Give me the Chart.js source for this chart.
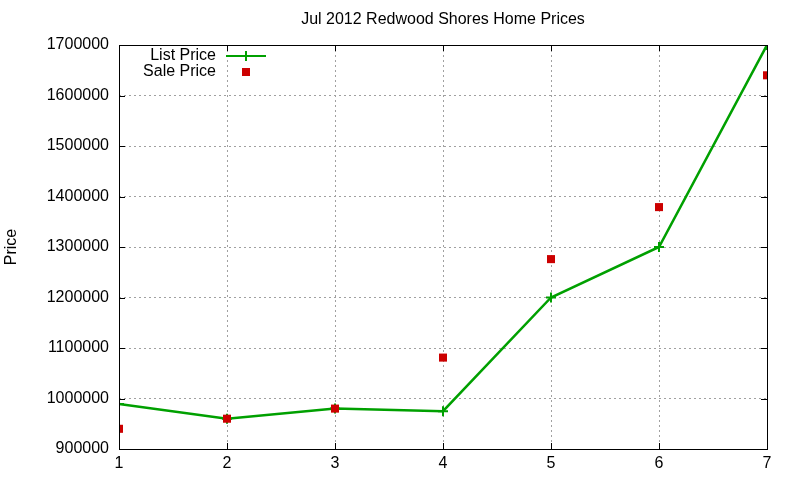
<!DOCTYPE html>
<html>
<head>
<meta charset="utf-8">
<script src="https://cdn.jsdelivr.net/npm/chart.js@4/dist/chart.umd.min.js"></script>
<style>
  html, body { margin: 0; padding: 0; background: #fff; }
  #wrap { width: 800px; height: 480px; }
</style>
</head>
<body>
<div id="wrap"><canvas id="priceChart" width="800" height="480"></canvas></div>
<script>
const months = [1, 2, 3, 4, 5, 6, 7];
const listPrice = [989000, 960000, 980000, 975000, 1200000, 1300000, 1700000];
const salePrice = [940000, 960000, 980000, 1081000, 1276000, 1379000, 1640000];
const yTicks = [900000, 1000000, 1100000, 1200000, 1300000, 1400000, 1500000, 1600000, 1700000];

const FONT = '"Liberation Sans", Arial, sans-serif';
const green = 'rgb(0,160,0)';
const red = 'rgb(204,0,0)';

// gnuplot-ish frame, inward ticks, title and legend
const framePlugin = {
  id: 'frame',
  afterDatasetsDraw(chart) {
    const { ctx, chartArea: a, scales } = chart;
    ctx.save();
    ctx.strokeStyle = '#000';
    ctx.lineWidth = 1;
    ctx.strokeRect(a.left + 0.5, a.top + 0.5, a.right - a.left, a.bottom - a.top);
    ctx.beginPath();
    yTicks.forEach((v) => {
      const y = Math.round(scales.y.getPixelForValue(v)) + 0.5;
      ctx.moveTo(a.left, y); ctx.lineTo(a.left + 6, y);
      ctx.moveTo(a.right, y); ctx.lineTo(a.right - 6, y);
    });
    months.forEach((m) => {
      const x = Math.round(scales.x.getPixelForValue(m)) + 0.5;
      ctx.moveTo(x, a.bottom); ctx.lineTo(x, a.bottom - 6);
      ctx.moveTo(x, a.top); ctx.lineTo(x, a.top + 6);
    });
    ctx.stroke();

    ctx.fillStyle = '#000';
    ctx.font = '16px ' + FONT;
    ctx.textAlign = 'center';
    ctx.textBaseline = 'middle';
    ctx.fillText('Jul 2012 Redwood Shores Home Prices', (a.left + a.right) / 2, 20);

    // key
    ctx.textAlign = 'right';
    ctx.fillText('List Price', 216, 56);
    ctx.fillText('Sale Price', 216, 72);
    ctx.strokeStyle = green;
    ctx.lineWidth = 2;
    ctx.beginPath();
    ctx.moveTo(226, 56); ctx.lineTo(266, 56);
    ctx.moveTo(246, 51); ctx.lineTo(246, 61);
    ctx.stroke();
    ctx.fillStyle = red;
    ctx.fillRect(242, 68, 8, 8);
    ctx.restore();
  }
};

new Chart(document.getElementById('priceChart'), {
  type: 'line',
  data: {
    datasets: [
      {
        label: 'List Price',
        data: months.map((m, i) => ({ x: m, y: listPrice[i] })),
        borderColor: green,
        backgroundColor: green,
        borderWidth: 2.5,
        pointStyle: 'cross',
        pointRadius: 5,
        pointBorderWidth: 2,
        tension: 0,
        order: 2
      },
      {
        label: 'Sale Price',
        data: months.map((m, i) => ({ x: m, y: salePrice[i] })),
        showLine: false,
        borderColor: red,
        backgroundColor: red,
        pointStyle: 'rect',
        pointRadius: 5.7,
        pointBorderWidth: 0,
        order: 1
      }
    ]
  },
  options: {
    responsive: false,
    animation: false,
    events: [],
    layout: { padding: { top: 45, right: 33, left: 0, bottom: 0 } },
    plugins: {
      legend: { display: false },
      title: { display: false },
      tooltip: { enabled: false }
    },
    scales: {
      x: {
        type: 'linear',
        min: 1,
        max: 7,
        afterBuildTicks(scale) { scale.ticks = months.map((v) => ({ value: v })); },
        afterFit(scale) { scale.height = 31; },
        grid: { color: '#a0a0a0', drawTicks: false },
        border: { display: false, dash: [2, 3] },
        ticks: { color: '#000', padding: 5, font: { family: FONT, size: 16 } }
      },
      y: {
        min: 900000,
        max: 1700000,
        afterBuildTicks(scale) { scale.ticks = yTicks.map((v) => ({ value: v })); },
        afterFit(scale) { scale.width = 119; },
        grid: { color: '#a0a0a0', drawTicks: false },
        border: { display: false, dash: [2, 3] },
        ticks: {
          color: '#000',
          padding: 10,
          font: { family: FONT, size: 16 },
          callback: (v) => String(v)
        },
        title: { display: true, text: 'Price', color: '#000', padding: 2, font: { family: FONT, size: 16 } }
      }
    }
  },
  plugins: [framePlugin]
});
</script>
</body>
</html>
